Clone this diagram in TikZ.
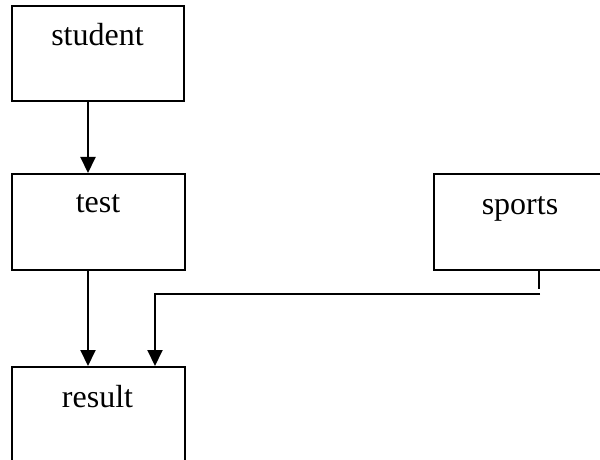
\documentclass[tikz,border=0pt]{standalone}
\usepackage{fontspec}
\setmainfont{Liberation Serif}
\usetikzlibrary{arrows.meta}
\begin{document}
\begin{tikzpicture}[x=0.5pt,y=-0.5pt,
  box/.style={draw,line width=1pt,rectangle,inner sep=0pt,anchor=north west},
  lbl/.style={font=\fontsize{16}{19}\selectfont,anchor=base,inner sep=0pt},
  arr/.style={line width=1pt,-{Triangle[width=7.5pt,length=8pt]}},
  ln/.style={line width=1pt}]
\useasboundingbox (0,0) rectangle (600,460);
\clip (0,0) rectangle (600,460);
% boxes
\node[box,minimum width=86pt,minimum height=47.5pt] (student) at (11,5) {};
\node[box,minimum width=86.5pt,minimum height=48pt] (test) at (11,173) {};
\node[box,minimum width=87pt,minimum height=48pt] (sports) at (433,173) {};
\node[box,minimum width=86.5pt,minimum height=60pt] (result) at (11,366) {};
% labels
\node[lbl] (tstudent) at (97.5,46) {student};
\node[lbl] (ttest) at (98,213) {test};
\node[lbl] (tsports) at (520,214) {sports};
\node[lbl] (tresult) at (97.5,407) {result};
% guide coordinates
\coordinate (xa) at (88,0);
\coordinate (xb) at (155,0);
\coordinate (xs) at (539,0);
\coordinate (stubend) at (539,289);
\coordinate (hstart) at (540,294);
\coordinate (hcorner) at (155,294);
% connectors
\draw[arr] (student.south -| xa) -- (test.north -| xa);
\draw[arr] (test.south -| xa) -- (result.north -| xa);
\draw[ln] (sports.south -| xs) -- (stubend);
\draw[arr] (hstart) -- (hcorner) -- (result.north -| xb);
\end{tikzpicture}
\end{document}
